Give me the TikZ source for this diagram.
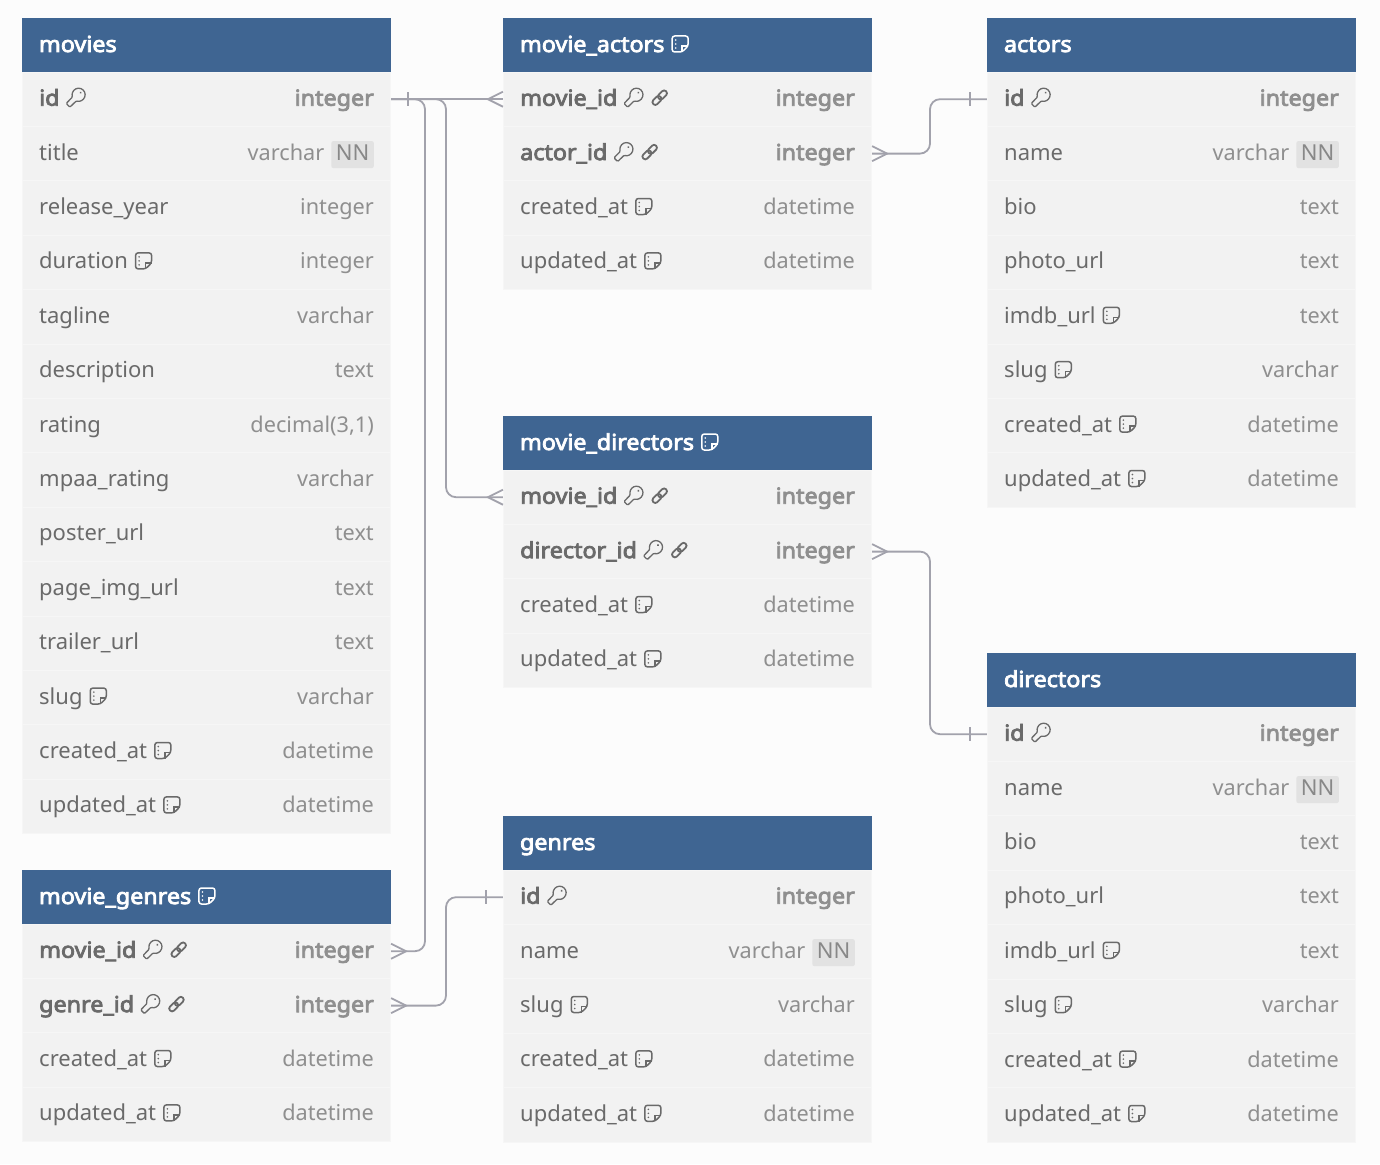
\documentclass[tikz,border=0pt]{standalone}
\usepackage{fontspec}
\setmainfont{Noto Sans}[BoldFont={Noto Sans},BoldFeatures={FakeBold=3.6,FakeStretch=1.06}]
\definecolor{pagebg}{HTML}{FCFCFC}
\definecolor{headblue}{HTML}{3F6592}
\definecolor{rowgray}{HTML}{F2F2F2}
\definecolor{rowline}{HTML}{F6F6F6}
\definecolor{nametext}{HTML}{6A6A6A}
\definecolor{typetext}{HTML}{8F8F8F}
\definecolor{nngray}{HTML}{E2E2E2}
\definecolor{relgray}{HTML}{A2A2AC}
\tikzset{
  dbhead/.style={
           rectangle,
           fill=headblue,
           text=white,
           font=\fontsize{22}{26}\selectfont\bfseries,
           text width=335pt,
           inner xsep=17pt,
           inner ysep=0pt,
           text height=18pt,
           text depth=4pt,
           minimum height=54.4pt},
  rowbox/.style={
           rectangle,
           fill=rowgray,
           draw=rowline,
           line width=0.8pt,
           minimum width=368.4pt,
           minimum height=54.4pt},
  rowname/.style={
           anchor=base west,
           inner sep=0pt,
           text=nametext,
           font=\fontsize{22}{26}\selectfont},
  rowtype/.style={
           anchor=base east,
           inner sep=0pt,
           text=typetext,
           font=\fontsize{21.7}{26}\selectfont},
  keyrow/.style={font=\fontsize{22}{26}\selectfont\bfseries},
  nnbadge/.style={
           fill=nngray,
           rounded corners=2pt,
           inner xsep=4.5pt,
           inner ysep=0pt,
           text height=19pt,
           text depth=8pt,
           text=nametext!80,
           font=\fontsize{22}{26}\selectfont},
  rel/.style={
           draw=relgray,
           line width=1.8pt,
           rounded corners=10pt},
  onemark/.pic={\draw[rel,sharp corners] (17,-7) -- (17,7);},
  manymark/.pic={\draw[rel,sharp corners] (0,-7.5) -- (15,0) -- (0,7.5);}
}
% little icons that sit in the text
\newcommand{\noteicon}{\hspace{7pt}\tikz[x=1pt,y=1pt,baseline=0pt,line width=1.5pt]{
    \draw[rounded corners=2.5pt] (0,0) -- (0,16) -- (16,16) -- (16,6) -- (10,0) -- cycle;
    \draw (10,0) -- (10,6) -- (16,6);
    \fill (3.5,12) circle (0.9) (3.5,8) circle (0.9) (3.5,4) circle (0.9);}}
\newcommand{\keyicon}{\hspace{6pt}\tikz[x=1pt,y=1pt,baseline=0pt,line width=1.3pt]{
    \begin{scope}[shift={(11,11)},rotate=-135]
    \draw[rounded corners=1pt] (25:6.5) arc (25:335:6.5) -- (15,-2.6) -- (15,2.6) -- cycle;
    \fill (-2.8,0) circle (1.1);
    \end{scope}}}
\newcommand{\linkicon}{\hspace{6pt}\tikz[x=1pt,y=1pt,baseline=0pt,line width=1.8pt]{
    \begin{scope}[shift={(8,8)},rotate=45]
    \draw[rounded corners=2.6pt] (-9,-2.8) rectangle (1.2,2.8);
    \draw[rounded corners=2.6pt] (-1.2,-2.8) rectangle (9,2.8);
    \end{scope}}}
\newcommand{\nn}{\hspace{7pt}\tikz[baseline=(nnb.base)]{\node[nnbadge] (nnb) {NN};}}
% one table row: node name, centre x, centre y, column name, column type
\newcommand{\dbrow}[6][]{
  \node[rowbox] (#2) at (#3,#4) {};
  \node[rowname,#1] (#2name) at ([xshift=-167.5pt,yshift=-6.5pt]#2.center) {#5};
  \node[rowtype,#1] (#2type) at ([xshift=167.5pt,yshift=-6.5pt]#2.center) {#6};
}
\begin{document}
\begin{tikzpicture}[x=1pt,y=-1pt]
      \useasboundingbox[fill=pagebg] (0,0) rectangle (1380,1164);
      % movies
      \node[dbhead] (movies) at (206.5,45) {movies};
      \dbrow[keyrow]{m_id}{206.5}{99.2}{id\keyicon}{integer}
      \dbrow{m_title}{206.5}{153.6}{title}{varchar\nn}
      \dbrow{m_year}{206.5}{208}{release\_year}{integer}
      \dbrow{m_duration}{206.5}{262.4}{duration\noteicon}{integer}
      \dbrow{m_tagline}{206.5}{316.8}{tagline}{varchar}
      \dbrow{m_desc}{206.5}{371.2}{description}{text}
      \dbrow{m_rating}{206.5}{425.6}{rating}{decimal(3,1)}
      \dbrow{m_mpaa}{206.5}{480}{mpaa\_rating}{varchar}
      \dbrow{m_poster}{206.5}{534.4}{poster\_url}{text}
      \dbrow{m_page}{206.5}{588.8}{page\_img\_url}{text}
      \dbrow{m_trailer}{206.5}{643.2}{trailer\_url}{text}
      \dbrow{m_slug}{206.5}{697.6}{slug\noteicon}{varchar}
      \dbrow{m_created}{206.5}{752}{created\_at\noteicon}{datetime}
      \dbrow{m_updated}{206.5}{806.4}{updated\_at\noteicon}{datetime}
      % movie_actors
      \node[dbhead] (movie_actors) at (687.5,45) {movie\_actors\noteicon};
      \dbrow[keyrow]{ma_movie}{687.5}{99.2}{movie\_id\keyicon\linkicon}{integer}
      \dbrow[keyrow]{ma_actor}{687.5}{153.6}{actor\_id\keyicon\linkicon}{integer}
      \dbrow{ma_created}{687.5}{208}{created\_at\noteicon}{datetime}
      \dbrow{ma_updated}{687.5}{262.4}{updated\_at\noteicon}{datetime}
      % actors
      \node[dbhead] (actors) at (1171.5,45) {actors};
      \dbrow[keyrow]{a_id}{1171.5}{99.2}{id\keyicon}{integer}
      \dbrow{a_name}{1171.5}{153.6}{name}{varchar\nn}
      \dbrow{a_bio}{1171.5}{208}{bio}{text}
      \dbrow{a_photo}{1171.5}{262.4}{photo\_url}{text}
      \dbrow{a_imdb}{1171.5}{316.8}{imdb\_url\noteicon}{text}
      \dbrow{a_slug}{1171.5}{371.2}{slug\noteicon}{varchar}
      \dbrow{a_created}{1171.5}{425.6}{created\_at\noteicon}{datetime}
      \dbrow{a_updated}{1171.5}{480}{updated\_at\noteicon}{datetime}
      % movie_directors
      \node[dbhead] (movie_directors) at (687.5,443) {movie\_directors\noteicon};
      \dbrow[keyrow]{md_movie}{687.5}{497.2}{movie\_id\keyicon\linkicon}{integer}
      \dbrow[keyrow]{md_director}{687.5}{551.6}{director\_id\keyicon\linkicon}{integer}
      \dbrow{md_created}{687.5}{606}{created\_at\noteicon}{datetime}
      \dbrow{md_updated}{687.5}{660.4}{updated\_at\noteicon}{datetime}
      % directors
      \node[dbhead] (directors) at (1171.5,680) {directors};
      \dbrow[keyrow]{d_id}{1171.5}{734.2}{id\keyicon}{integer}
      \dbrow{d_name}{1171.5}{788.6}{name}{varchar\nn}
      \dbrow{d_bio}{1171.5}{843}{bio}{text}
      \dbrow{d_photo}{1171.5}{897.4}{photo\_url}{text}
      \dbrow{d_imdb}{1171.5}{951.8}{imdb\_url\noteicon}{text}
      \dbrow{d_slug}{1171.5}{1006.2}{slug\noteicon}{varchar}
      \dbrow{d_created}{1171.5}{1060.6}{created\_at\noteicon}{datetime}
      \dbrow{d_updated}{1171.5}{1115}{updated\_at\noteicon}{datetime}
      % genres
      \node[dbhead] (genres) at (687.5,843) {genres};
      \dbrow[keyrow]{g_id}{687.5}{897.2}{id\keyicon}{integer}
      \dbrow{g_name}{687.5}{951.6}{name}{varchar\nn}
      \dbrow{g_slug}{687.5}{1006}{slug\noteicon}{varchar}
      \dbrow{g_created}{687.5}{1060.4}{created\_at\noteicon}{datetime}
      \dbrow{g_updated}{687.5}{1114.8}{updated\_at\noteicon}{datetime}
      % movie_genres
      \node[dbhead] (movie_genres) at (206.5,897) {movie\_genres\noteicon};
      \dbrow[keyrow]{mg_movie}{206.5}{951.2}{movie\_id\keyicon\linkicon}{integer}
      \dbrow[keyrow]{mg_genre}{206.5}{1005.6}{genre\_id\keyicon\linkicon}{integer}
      \dbrow{mg_created}{206.5}{1060}{created\_at\noteicon}{datetime}
      \dbrow{mg_updated}{206.5}{1114.4}{updated\_at\noteicon}{datetime}
      % connectors
      \coordinate (busa) at (425,0);
      \coordinate (busb) at (446,0);
      \coordinate (busc) at (930,0);
      \draw[rel] (m_id.east) pic {onemark} -- (ma_movie.west) pic[xscale=-1] {manymark};
      \draw[rel] (m_id.east) -- (m_id.east -| busa) -- (mg_movie.east -| busa) -- (mg_movie.east) pic {manymark};
      \draw[rel] (m_id.east) -- (m_id.east -| busb) -- (md_movie.west -| busb) -- (md_movie.west) pic[xscale=-1] {manymark};
      \draw[rel] (ma_actor.east) pic {manymark} -- (ma_actor.east -| busc) -- (a_id.west -| busc) -- (a_id.west) pic[xscale=-1] {onemark};
      \draw[rel] (md_director.east) pic {manymark} -- (md_director.east -| busc) -- (d_id.west -| busc) -- (d_id.west) pic[xscale=-1] {onemark};
      \draw[rel] (mg_genre.east) pic {manymark} -- (mg_genre.east -| busb) -- (g_id.west -| busb) -- (g_id.west) pic[xscale=-1] {onemark};
\end{tikzpicture}
\end{document}
